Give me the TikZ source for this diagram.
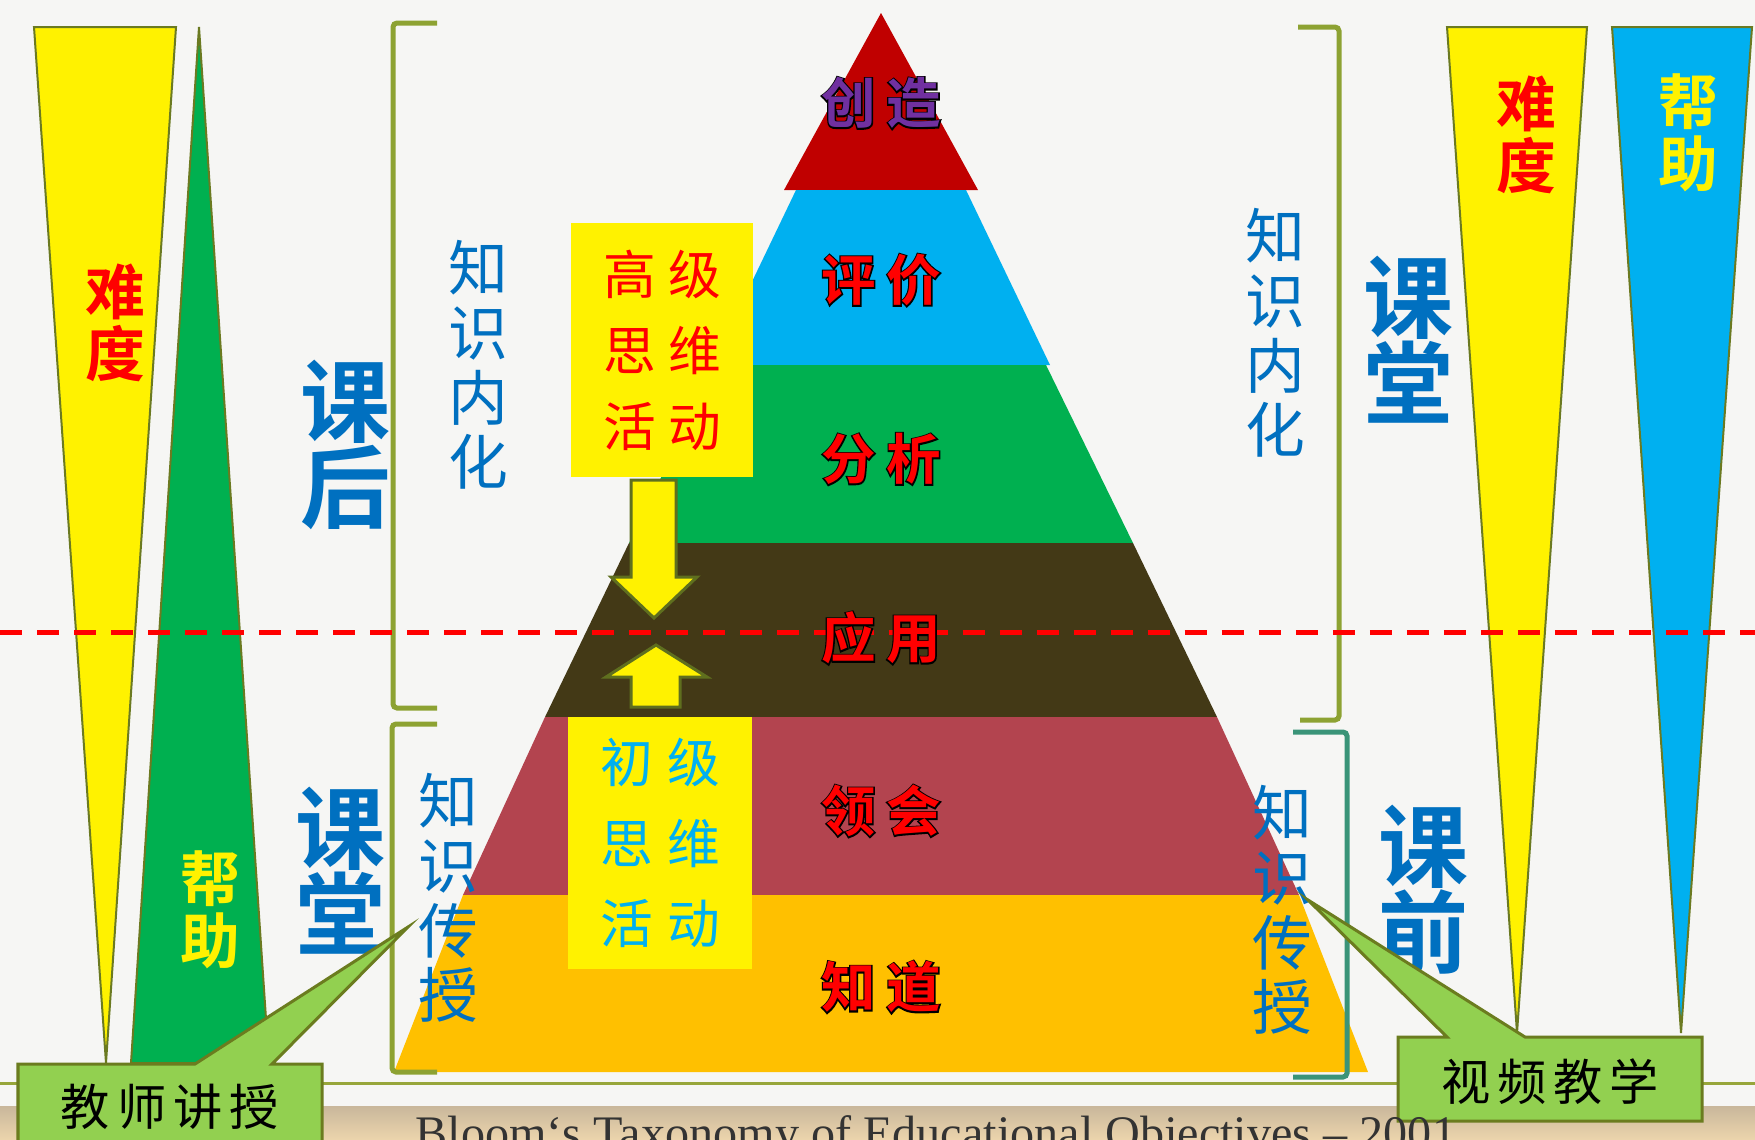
\documentclass[tikz,border=0pt]{standalone}
\usepackage{fontspec}
\setmainfont{Liberation Serif}
\newfontfamily\cjk{Noto Sans CJK SC}[BoldFont={Noto Sans CJK SC Bold}]
\newfontfamily\cjkfat{Noto Sans CJK SC Bold}[FakeBold=5]
\usepackage{tikz}
\usetikzlibrary{positioning}
\definecolor{paper}{HTML}{F6F6F4}
\definecolor{layCreate}{HTML}{C00000}
\definecolor{layJudge}{HTML}{00B0F0}
\definecolor{layAnalyse}{HTML}{00B050}
\definecolor{layApply}{HTML}{433916}
\definecolor{layGrasp}{HTML}{B3444F}
\definecolor{layKnow}{HTML}{FFC000}
\definecolor{textBlue}{HTML}{0070C0}
\definecolor{lvlPurple}{HTML}{7030A0}
\definecolor{wedgeLine}{HTML}{6B7A21}
\definecolor{bracketOlive}{HTML}{8DA232}
\definecolor{bracketTeal}{HTML}{3A9478}
\definecolor{arrowLine}{HTML}{5F6F1E}
\definecolor{calloutFill}{HTML}{92D050}
\definecolor{calloutLine}{HTML}{6B7C1F}
\definecolor{ruleOlive}{HTML}{97A63A}
\definecolor{bandTop}{HTML}{C9B79B}
\definecolor{bandBottom}{HTML}{EBD4AC}
\definecolor{footGray}{HTML}{333333}

\begin{document}
\begin{tikzpicture}[x=0.01cm, y=-0.01cm,
  bigword/.style={text=textBlue, font=\cjk\bfseries\fontsize{25.6pt}{24.5pt}\selectfont, align=center, inner sep=0pt},
  thinword/.style={text=textBlue, font=\cjk\fontsize{17pt}{18.4pt}\selectfont, align=center, inner sep=0pt},
  sideword/.style={font=\cjk\bfseries\fontsize{17pt}{17.6pt}\selectfont, align=center, inner sep=0pt},
  wedge/.style={draw=wedgeLine, line width=0.2mm, line join=miter},
  bracket/.style={line width=0.5mm, rounded corners=0.4mm},
  thinkbox/.style={fill=yellow, minimum width=1.81cm, minimum height=2.53cm, align=center, inner sep=0pt},
  blockarrow/.style={fill=yellow, draw=arrowLine, line width=0.3mm, line join=miter},
  callout/.style={fill=calloutFill, draw=calloutLine, line width=0.3mm},
  callword/.style={text=black, font=\cjk\fontsize{14pt}{14pt}\selectfont, inner sep=0pt},
  lvlback/.style={text=black, font=\cjkfat\fontsize{15.5pt}{15.5pt}\selectfont, inner sep=0pt},
  lvlfront/.style={font=\cjk\bfseries\fontsize{15.5pt}{15.5pt}\selectfont, inner sep=0pt}]
\useasboundingbox (0,0) rectangle (1755,1139);
\clip (0,0) rectangle (1755,1139);
\fill[paper] (0,0) rectangle (1755,1139);
\shade[top color=bandTop, bottom color=bandBottom] (0,1106) rectangle (1755,1139);
\draw[ruleOlive, line width=0.3mm] (0,1083) -- (1755,1083);

% side wedges
\filldraw[wedge, fill=yellow] (34,27) -- (176,27) -- (106,1063) -- cycle;
\filldraw[wedge, fill=layAnalyse] (199,27) -- (269,1063) -- (131,1063) -- cycle;
\filldraw[wedge, fill=yellow] (1447,27) -- (1587,27) -- (1517,1033) -- cycle;
\filldraw[wedge, fill=layJudge] (1612,27) -- (1752,27) -- (1681,1033) -- cycle;

% pyramid
\fill[layCreate] (881,13) -- (978,190) -- (784,190) -- cycle;
\fill[layJudge] (796,190) -- (966,190) -- (1050,365) -- (712,365) -- cycle;
\fill[layAnalyse] (716,365) -- (1046,365) -- (1133,543) -- (629,543) -- cycle;
\fill[layApply] (629,543) -- (1133,543) -- (1217,717) -- (545,717) -- cycle;
\fill[layGrasp] (545,717) -- (1217,717) -- (1299,895) -- (463,895) -- cycle;
\fill[layKnow] (463,895) -- (1299,895) -- (1368,1072) -- (394,1072) -- cycle;

% brackets
\draw[bracket, bracketOlive] (437,23) -- (393,23) -- (393,708) -- (437,708);
\draw[bracket, bracketOlive] (437,724) -- (392,724) -- (392,1072) -- (437,1072);
\draw[bracket, bracketOlive] (1298,27) -- (1339,27) -- (1339,720) -- (1300,720);
\draw[bracket, bracketTeal] (1293,732) -- (1347,732) -- (1347,1077) -- (1293,1077);

\draw[red, line width=0.5mm, dash pattern=on 2.2mm off 1.5mm] (0,632) -- (1755,632);

% thinking boxes
\node[thinkbox, text=red, font=\cjk\fontsize{15pt}{21.6pt}\selectfont] (high) at (662,350) {高\kern3.5pt级\\思\kern3.5pt维\\活\kern3.5pt动};
\node[thinkbox, text=layJudge, minimum width=1.83cm, minimum height=2.52cm, font=\cjk\fontsize{15pt}{22.8pt}\selectfont] (low) at (660,843) {初\kern4pt级\\思\kern4pt维\\活\kern4pt动};
\filldraw[blockarrow] (631,480) -- (676,480) -- (676,577) -- (697,577) -- (654,618) -- (611,577) -- (631,577) -- cycle;
\filldraw[blockarrow] (656,645) -- (707,677) -- (680,677) -- (680,707) -- (631,707) -- (631,677) -- (606,677) -- cycle;

% level names
\foreach \nm/\yy/\txt/\cl in {create/103/创\kern3pt造/lvlPurple, judge/280/评\kern3pt价/red, analyse/459/分\kern3pt析/red, apply/638/应\kern3pt用/red, grasp/811/领\kern3pt会/red, know/987/知\kern3pt道/red}
{
  \node[lvlback] at (881,\yy) {\txt};
  \node[lvlfront, text=\cl] (\nm) at (881,\yy) {\txt};
}

% words
\node[sideword, text=red] (hardL) at (115,323) {难\\度};
\node[sideword, text=yellow] (helpL) at (210,910) {帮\\助};
\node[sideword, text=red] (hardR) at (1526,135) {难\\度};
\node[sideword, text=yellow] (helpR) at (1688,133) {帮\\助};
\node[bigword] (afterL) at (346,445) {课\\后};
\node[bigword] (classL) at (341,871) {课\\堂};
\node[bigword] (classR) at (1408,340) {课\\堂};
\node[bigword] (beforeR) at (1423,890) {课\\前};
\node[thinword] (internL) at (478,365) {知\\识\\内\\化};
\node[thinword] (transL) at (448,898) {知\\识\\传\\授};
\node[thinword] (internR) at (1275,333) {知\\识\\内\\化};
\node[thinword] (transR) at (1282,910) {知\\识\\传\\授};

% callouts
\coordinate (tipL) at (408,927);
\coordinate (tipR) at (1308,900);
\draw[callout] (18,1064) -- (195,1064) -- (tipL) -- (272,1064) -- (322,1064) -- (322,1150) -- (18,1150) -- cycle;
\draw[callout] (1398,1037) -- (1447,1037) -- (tipR) -- (1525,1037) -- (1702,1037) -- (1702,1121) -- (1398,1121) -- cycle;
\node[callword] (teach) at (170,1107) {教\kern2pt师\kern2pt讲\kern2pt授};
\node[callword] (video) at (1550,1082) {视\kern2pt频\kern2pt教\kern2pt学};

\node[anchor=base west, inner sep=0pt, text=footGray, font=\fontsize{13.7pt}{16pt}\selectfont] (foot) at (415,1149) {Bloom‘s Taxonomy of Educational Objectives – 2001};
\end{tikzpicture}
\end{document}
